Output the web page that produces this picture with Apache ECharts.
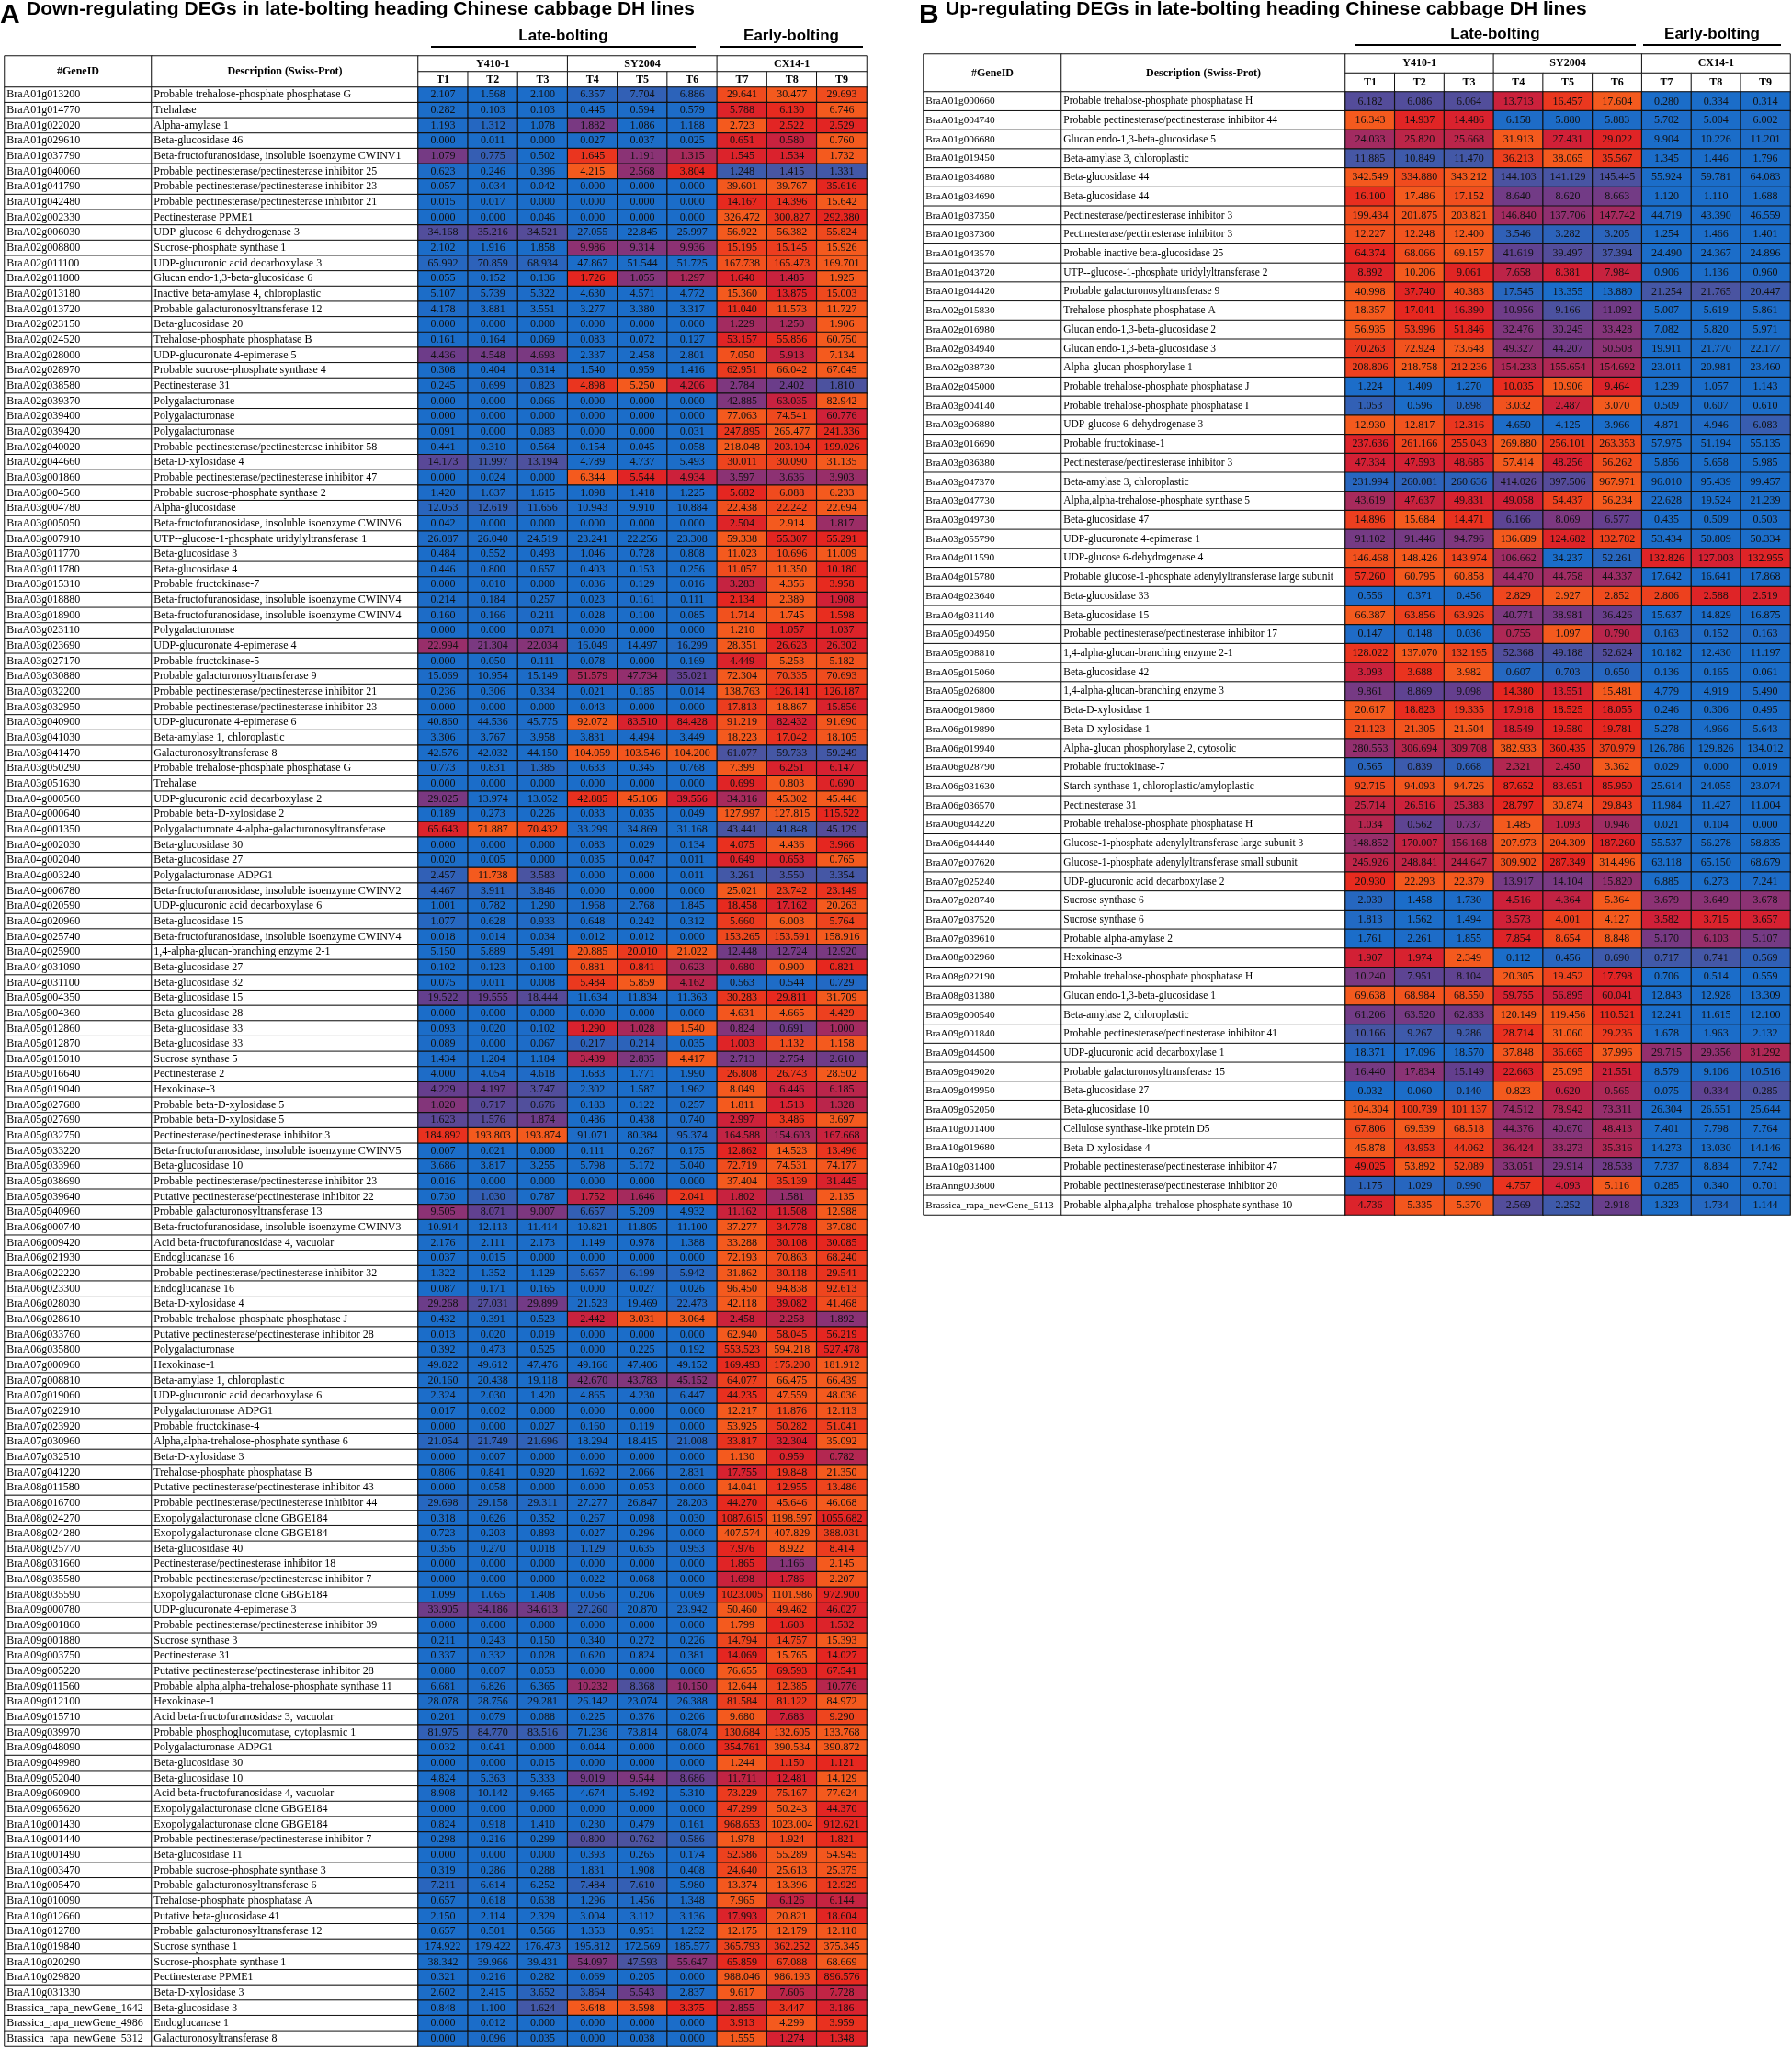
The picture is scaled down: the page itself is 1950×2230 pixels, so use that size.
<!DOCTYPE html>
<html>
<head>
<meta charset="utf-8">
<script src="https://cdn.jsdelivr.net/npm/echarts@6/dist/echarts.min.js"></script>
<style>
  html, body { margin: 0; padding: 0; background: #fff; }
  #chart { width: 1950px; height: 2230px; }
</style>
</head>
<body>
<div id="chart"></div>
<script>
// ---- data ----
const timePoints = ['T1', 'T2', 'T3', 'T4', 'T5', 'T6', 'T7', 'T8', 'T9'];
const lineGroups = ['Y410-1', 'SY2004', 'CX14-1'];

// A: down-regulating DEGs
const downGeneIds = [
  'BraA01g013200','BraA01g014770','BraA01g022020','BraA01g029610','BraA01g037790','BraA01g040060','BraA01g041790','BraA01g042480',
  'BraA02g002330','BraA02g006030','BraA02g008800','BraA02g011100','BraA02g011800','BraA02g013180','BraA02g013720','BraA02g023150',
  'BraA02g024520','BraA02g028000','BraA02g028970','BraA02g038580','BraA02g039370','BraA02g039400','BraA02g039420','BraA02g040020',
  'BraA02g044660','BraA03g001860','BraA03g004560','BraA03g004780','BraA03g005050','BraA03g007910','BraA03g011770','BraA03g011780',
  'BraA03g015310','BraA03g018880','BraA03g018900','BraA03g023110','BraA03g023690','BraA03g027170','BraA03g030880','BraA03g032200',
  'BraA03g032950','BraA03g040900','BraA03g041030','BraA03g041470','BraA03g050290','BraA03g051630','BraA04g000560','BraA04g000640',
  'BraA04g001350','BraA04g002030','BraA04g002040','BraA04g003240','BraA04g006780','BraA04g020590','BraA04g020960','BraA04g025740',
  'BraA04g025900','BraA04g031090','BraA04g031100','BraA05g004350','BraA05g004360','BraA05g012860','BraA05g012870','BraA05g015010',
  'BraA05g016640','BraA05g019040','BraA05g027680','BraA05g027690','BraA05g032750','BraA05g033220','BraA05g033960','BraA05g038690',
  'BraA05g039640','BraA05g040960','BraA06g000740','BraA06g009420','BraA06g021930','BraA06g022220','BraA06g023300','BraA06g028030',
  'BraA06g028610','BraA06g033760','BraA06g035800','BraA07g000960','BraA07g008810','BraA07g019060','BraA07g022910','BraA07g023920',
  'BraA07g030960','BraA07g032510','BraA07g041220','BraA08g011580','BraA08g016700','BraA08g024270','BraA08g024280','BraA08g025770',
  'BraA08g031660','BraA08g035580','BraA08g035590','BraA09g000780','BraA09g001860','BraA09g001880','BraA09g003750','BraA09g005220',
  'BraA09g011560','BraA09g012100','BraA09g015710','BraA09g039970','BraA09g048090','BraA09g049980','BraA09g052040','BraA09g060900',
  'BraA09g065620','BraA10g001430','BraA10g001440','BraA10g001490','BraA10g003470','BraA10g005470','BraA10g010090','BraA10g012660',
  'BraA10g012780','BraA10g019840','BraA10g020290','BraA10g029820','BraA10g031330','Brassica_rapa_newGene_1642','Brassica_rapa_newGene_4986','Brassica_rapa_newGene_5312'
];
const downDescriptions = [
  'Probable trehalose-phosphate phosphatase G','Trehalase','Alpha-amylase 1','Beta-glucosidase 46',
  'Beta-fructofuranosidase, insoluble isoenzyme CWINV1','Probable pectinesterase/pectinesterase inhibitor 25',
  'Probable pectinesterase/pectinesterase inhibitor 23','Probable pectinesterase/pectinesterase inhibitor 21',
  'Pectinesterase PPME1','UDP-glucose 6-dehydrogenase 3','Sucrose-phosphate synthase 1','UDP-glucuronic acid decarboxylase 3',
  'Glucan endo-1,3-beta-glucosidase 6','Inactive beta-amylase 4, chloroplastic','Probable galacturonosyltransferase 12','Beta-glucosidase 20',
  'Trehalose-phosphate phosphatase B','UDP-glucuronate 4-epimerase 5','Probable sucrose-phosphate synthase 4','Pectinesterase 31',
  'Polygalacturonase','Polygalacturonase','Polygalacturonase','Probable pectinesterase/pectinesterase inhibitor 58',
  'Beta-D-xylosidase 4','Probable pectinesterase/pectinesterase inhibitor 47','Probable sucrose-phosphate synthase 2','Alpha-glucosidase',
  'Beta-fructofuranosidase, insoluble isoenzyme CWINV6','UTP--glucose-1-phosphate uridylyltransferase 1','Beta-glucosidase 3','Beta-glucosidase 4',
  'Probable fructokinase-7','Beta-fructofuranosidase, insoluble isoenzyme CWINV4','Beta-fructofuranosidase, insoluble isoenzyme CWINV4','Polygalacturonase',
  'UDP-glucuronate 4-epimerase 4','Probable fructokinase-5','Probable galacturonosyltransferase 9','Probable pectinesterase/pectinesterase inhibitor 21',
  'Probable pectinesterase/pectinesterase inhibitor 23','UDP-glucuronate 4-epimerase 6','Beta-amylase 1, chloroplastic','Galacturonosyltransferase 8',
  'Probable trehalose-phosphate phosphatase G','Trehalase','UDP-glucuronic acid decarboxylase 2','Probable beta-D-xylosidase 2',
  'Polygalacturonate 4-alpha-galacturonosyltransferase','Beta-glucosidase 30','Beta-glucosidase 27','Polygalacturonase ADPG1',
  'Beta-fructofuranosidase, insoluble isoenzyme CWINV2','UDP-glucuronic acid decarboxylase 6','Beta-glucosidase 15','Beta-fructofuranosidase, insoluble isoenzyme CWINV4',
  '1,4-alpha-glucan-branching enzyme 2-1','Beta-glucosidase 27','Beta-glucosidase 32','Beta-glucosidase 15',
  'Beta-glucosidase 28','Beta-glucosidase 33','Beta-glucosidase 33','Sucrose synthase 5',
  'Pectinesterase 2','Hexokinase-3','Probable beta-D-xylosidase 5','Probable beta-D-xylosidase 5',
  'Pectinesterase/pectinesterase inhibitor 3','Beta-fructofuranosidase, insoluble isoenzyme CWINV5','Beta-glucosidase 10','Probable pectinesterase/pectinesterase inhibitor 23',
  'Putative pectinesterase/pectinesterase inhibitor 22','Probable galacturonosyltransferase 13','Beta-fructofuranosidase, insoluble isoenzyme CWINV3','Acid beta-fructofuranosidase 4, vacuolar',
  'Endoglucanase 16','Probable pectinesterase/pectinesterase inhibitor 32','Endoglucanase 16','Beta-D-xylosidase 4',
  'Probable trehalose-phosphate phosphatase J','Putative pectinesterase/pectinesterase inhibitor 28','Polygalacturonase','Hexokinase-1',
  'Beta-amylase 1, chloroplastic','UDP-glucuronic acid decarboxylase 6','Polygalacturonase ADPG1','Probable fructokinase-4',
  'Alpha,alpha-trehalose-phosphate synthase 6','Beta-D-xylosidase 3','Trehalose-phosphate phosphatase B','Putative pectinesterase/pectinesterase inhibitor 43',
  'Probable pectinesterase/pectinesterase inhibitor 44','Exopolygalacturonase clone GBGE184','Exopolygalacturonase clone GBGE184','Beta-glucosidase 40',
  'Pectinesterase/pectinesterase inhibitor 18','Probable pectinesterase/pectinesterase inhibitor 7','Exopolygalacturonase clone GBGE184','UDP-glucuronate 4-epimerase 3',
  'Probable pectinesterase/pectinesterase inhibitor 39','Sucrose synthase 3','Pectinesterase 31','Putative pectinesterase/pectinesterase inhibitor 28',
  'Probable alpha,alpha-trehalose-phosphate synthase 11','Hexokinase-1','Acid beta-fructofuranosidase 3, vacuolar','Probable phosphoglucomutase, cytoplasmic 1',
  'Polygalacturonase ADPG1','Beta-glucosidase 30','Beta-glucosidase 10','Acid beta-fructofuranosidase 4, vacuolar',
  'Exopolygalacturonase clone GBGE184','Exopolygalacturonase clone GBGE184','Probable pectinesterase/pectinesterase inhibitor 7','Beta-glucosidase 11',
  'Probable sucrose-phosphate synthase 3','Probable galacturonosyltransferase 6','Trehalose-phosphate phosphatase A','Putative beta-glucosidase 41',
  'Probable galacturonosyltransferase 12','Sucrose synthase 1','Sucrose-phosphate synthase 1','Pectinesterase PPME1',
  'Beta-D-xylosidase 3','Beta-glucosidase 3','Endoglucanase 1','Galacturonosyltransferase 8'
];
// FPKM, columns T1..T9
const downFpkm = [
  [2.107,1.568,2.100,6.357,7.704,6.886,29.641,30.477,29.693],
  [0.282,0.103,0.103,0.445,0.594,0.579,5.788,6.130,6.746],
  [1.193,1.312,1.078,1.882,1.086,1.188,2.723,2.522,2.529],
  [0.000,0.011,0.000,0.027,0.037,0.025,0.651,0.580,0.760],
  [1.079,0.775,0.502,1.645,1.191,1.315,1.545,1.534,1.732],
  [0.623,0.246,0.396,4.215,2.568,3.804,1.248,1.415,1.331],
  [0.057,0.034,0.042,0.000,0.000,0.000,39.601,39.767,35.616],
  [0.015,0.017,0.000,0.000,0.000,0.000,14.167,14.396,15.642],
  [0.000,0.000,0.046,0.000,0.000,0.000,326.472,300.827,292.380],
  [34.168,35.216,34.521,27.055,22.845,25.997,56.922,56.382,55.824],
  [2.102,1.916,1.858,9.986,9.314,9.936,15.195,15.145,15.926],
  [65.992,70.859,68.934,47.867,51.544,51.725,167.738,165.473,169.701],
  [0.055,0.152,0.136,1.726,1.055,1.297,1.640,1.485,1.925],
  [5.107,5.739,5.322,4.630,4.571,4.772,15.360,13.875,15.003],
  [4.178,3.881,3.551,3.277,3.380,3.317,11.040,11.573,11.727],
  [0.000,0.000,0.000,0.000,0.000,0.000,1.229,1.250,1.906],
  [0.161,0.164,0.069,0.083,0.072,0.127,53.157,55.856,60.750],
  [4.436,4.548,4.693,2.337,2.458,2.801,7.050,5.913,7.134],
  [0.308,0.404,0.314,1.540,0.959,1.416,62.951,66.042,67.045],
  [0.245,0.699,0.823,4.898,5.250,4.206,2.784,2.402,1.810],
  [0.000,0.000,0.066,0.000,0.000,0.000,42.885,63.035,82.942],
  [0.000,0.000,0.000,0.000,0.000,0.000,77.063,74.541,60.776],
  [0.091,0.000,0.083,0.000,0.000,0.031,247.895,265.477,241.336],
  [0.441,0.310,0.564,0.154,0.045,0.058,218.048,203.104,199.026],
  [14.173,11.997,13.194,4.789,4.737,5.493,30.011,30.090,31.135],
  [0.000,0.024,0.000,6.344,5.544,4.934,3.597,3.636,3.903],
  [1.420,1.637,1.615,1.098,1.418,1.225,5.682,6.088,6.233],
  [12.053,12.619,11.656,10.943,9.910,10.884,22.438,22.242,22.694],
  [0.042,0.000,0.000,0.000,0.000,0.000,2.504,2.914,1.817],
  [26.087,26.040,24.519,23.241,22.256,23.308,59.338,55.307,55.291],
  [0.484,0.552,0.493,1.046,0.728,0.808,11.023,10.696,11.009],
  [0.446,0.800,0.657,0.403,0.153,0.256,11.057,11.350,10.180],
  [0.000,0.010,0.000,0.036,0.129,0.016,3.283,4.356,3.958],
  [0.214,0.184,0.257,0.023,0.161,0.111,2.134,2.389,1.908],
  [0.160,0.166,0.211,0.028,0.100,0.085,1.714,1.745,1.598],
  [0.000,0.000,0.071,0.000,0.000,0.000,1.210,1.057,1.037],
  [22.994,21.304,22.034,16.049,14.497,16.299,28.351,26.623,26.302],
  [0.000,0.050,0.111,0.078,0.000,0.169,4.449,5.253,5.182],
  [15.069,10.954,15.149,51.579,47.734,35.021,72.304,70.335,70.693],
  [0.236,0.306,0.334,0.021,0.185,0.014,138.763,126.141,126.187],
  [0.000,0.000,0.000,0.043,0.000,0.000,17.813,18.867,15.856],
  [40.860,44.536,45.775,92.072,83.510,84.428,91.219,82.432,91.690],
  [3.306,3.767,3.958,3.831,4.494,3.449,18.223,17.042,18.105],
  [42.576,42.032,44.150,104.059,103.546,104.200,61.077,59.733,59.249],
  [0.773,0.831,1.385,0.633,0.345,0.768,7.399,6.251,6.147],
  [0.000,0.000,0.000,0.000,0.000,0.000,0.699,0.803,0.690],
  [29.025,13.974,13.052,42.885,45.106,39.556,34.316,45.302,45.446],
  [0.189,0.273,0.226,0.033,0.035,0.049,127.997,127.815,115.522],
  [65.643,71.887,70.432,33.299,34.869,31.168,43.441,41.848,45.129],
  [0.000,0.000,0.000,0.083,0.029,0.134,4.075,4.436,3.966],
  [0.020,0.005,0.000,0.035,0.047,0.011,0.649,0.653,0.765],
  [2.457,11.738,3.583,0.000,0.000,0.011,3.261,3.550,3.354],
  [4.467,3.911,3.846,0.000,0.000,0.000,25.021,23.742,23.149],
  [1.001,0.782,1.290,1.968,2.768,1.845,18.458,17.162,20.263],
  [1.077,0.628,0.933,0.648,0.242,0.312,5.660,6.003,5.764],
  [0.018,0.014,0.034,0.012,0.012,0.000,153.265,153.591,158.916],
  [5.150,5.889,5.491,20.885,20.010,21.022,12.448,12.724,12.920],
  [0.102,0.123,0.100,0.881,0.841,0.623,0.680,0.900,0.821],
  [0.075,0.011,0.008,5.484,5.859,4.162,0.563,0.544,0.729],
  [19.522,19.555,18.444,11.634,11.834,11.363,30.283,29.811,31.709],
  [0.000,0.000,0.000,0.000,0.000,0.000,4.631,4.665,4.429],
  [0.093,0.020,0.102,1.290,1.028,1.540,0.824,0.691,1.000],
  [0.089,0.000,0.067,0.217,0.214,0.035,1.003,1.132,1.158],
  [1.434,1.204,1.184,3.439,2.835,4.417,2.713,2.754,2.610],
  [4.000,4.054,4.618,1.683,1.771,1.990,26.808,26.743,28.502],
  [4.229,4.197,3.747,2.302,1.587,1.962,8.049,6.446,6.185],
  [1.020,0.717,0.676,0.183,0.122,0.257,1.811,1.513,1.328],
  [1.623,1.576,1.874,0.486,0.438,0.740,2.997,3.486,3.697],
  [184.892,193.803,193.874,91.071,80.384,95.374,164.588,154.603,167.668],
  [0.007,0.021,0.000,0.111,0.267,0.175,12.862,14.523,13.496],
  [3.686,3.817,3.255,5.798,5.172,5.040,72.719,74.531,74.177],
  [0.016,0.000,0.000,0.000,0.000,0.000,37.404,35.139,31.445],
  [0.730,1.030,0.787,1.752,1.646,2.041,1.802,1.581,2.135],
  [9.505,8.071,9.007,6.657,5.209,4.932,11.162,11.508,12.988],
  [10.914,12.113,11.414,10.821,11.805,11.100,37.277,34.778,37.080],
  [2.176,2.111,2.173,1.149,0.978,1.388,33.288,30.108,30.085],
  [0.037,0.015,0.000,0.000,0.000,0.000,72.193,70.863,68.240],
  [1.322,1.352,1.129,5.657,6.199,5.942,31.862,30.118,29.541],
  [0.087,0.171,0.165,0.000,0.027,0.026,96.450,94.838,92.613],
  [29.268,27.031,29.899,21.523,19.469,22.473,42.118,39.082,41.468],
  [0.432,0.391,0.523,2.442,3.031,3.064,2.458,2.258,1.892],
  [0.013,0.020,0.019,0.000,0.000,0.000,62.940,58.045,56.219],
  [0.392,0.473,0.525,0.000,0.225,0.192,553.523,594.218,527.478],
  [49.822,49.612,47.476,49.166,47.406,49.152,169.493,175.200,181.912],
  [20.160,20.438,19.118,42.670,43.783,45.152,64.077,66.475,66.439],
  [2.324,2.030,1.420,4.865,4.230,6.447,44.235,47.559,48.036],
  [0.017,0.002,0.000,0.000,0.000,0.000,12.217,11.876,12.113],
  [0.000,0.000,0.027,0.160,0.119,0.000,53.925,50.282,51.041],
  [21.054,21.749,21.696,18.294,18.415,21.008,33.817,32.304,35.092],
  [0.000,0.007,0.000,0.000,0.000,0.000,1.130,0.959,0.782],
  [0.806,0.841,0.920,1.692,2.066,2.831,17.755,19.848,21.350],
  [0.000,0.058,0.000,0.000,0.053,0.000,14.041,12.955,13.486],
  [29.698,29.158,29.311,27.277,26.847,28.203,44.270,45.646,46.068],
  [0.318,0.626,0.352,0.267,0.098,0.030,1087.615,1198.597,1055.682],
  [0.723,0.203,0.893,0.027,0.296,0.000,407.574,407.829,388.031],
  [0.356,0.270,0.018,1.129,0.635,0.953,7.976,8.922,8.414],
  [0.000,0.000,0.000,0.000,0.000,0.000,1.865,1.166,2.145],
  [0.000,0.000,0.000,0.022,0.068,0.000,1.698,1.786,2.207],
  [1.099,1.065,1.408,0.056,0.206,0.069,1023.005,1101.986,972.900],
  [33.905,34.186,34.613,27.260,20.870,23.942,50.460,49.462,46.027],
  [0.000,0.000,0.000,0.000,0.000,0.000,1.799,1.603,1.532],
  [0.211,0.243,0.150,0.340,0.272,0.226,14.794,14.757,15.393],
  [0.337,0.332,0.028,0.620,0.824,0.381,14.069,15.765,14.027],
  [0.080,0.007,0.053,0.000,0.000,0.000,76.655,69.593,67.541],
  [6.681,6.826,6.365,10.232,8.368,10.150,12.644,12.385,10.776],
  [28.078,28.756,29.281,26.142,23.074,26.388,81.584,81.122,84.972],
  [0.201,0.079,0.088,0.225,0.376,0.206,9.680,7.683,9.290],
  [81.975,84.770,83.516,71.236,73.814,68.074,130.684,132.605,133.768],
  [0.032,0.041,0.000,0.044,0.000,0.000,354.761,390.534,390.872],
  [0.000,0.000,0.015,0.000,0.000,0.000,1.244,1.150,1.121],
  [4.824,5.363,5.333,9.019,9.544,8.686,11.711,12.481,14.129],
  [8.908,10.142,9.465,4.674,5.492,5.310,73.229,75.167,77.624],
  [0.000,0.000,0.000,0.000,0.000,0.000,47.299,50.243,44.370],
  [0.824,0.918,1.410,0.230,0.479,0.161,968.653,1023.004,912.621],
  [0.298,0.216,0.299,0.800,0.762,0.586,1.978,1.924,1.821],
  [0.000,0.000,0.000,0.393,0.265,0.174,52.586,55.289,54.945],
  [0.319,0.286,0.288,1.831,1.908,0.408,24.640,25.613,25.375],
  [7.211,6.614,6.252,7.484,7.610,5.980,13.374,13.396,12.929],
  [0.657,0.618,0.638,1.296,1.456,1.348,7.965,6.126,6.144],
  [2.150,2.114,2.329,3.004,3.112,3.136,17.993,20.821,18.604],
  [0.657,0.501,0.566,1.353,0.951,1.252,12.175,12.179,12.110],
  [174.922,179.422,176.473,195.812,172.569,185.577,365.793,362.252,375.345],
  [38.342,39.966,39.431,54.097,47.593,55.647,65.859,67.088,68.669],
  [0.321,0.216,0.282,0.069,0.205,0.000,988.046,986.193,896.576],
  [2.602,2.415,3.652,3.864,5.543,2.837,9.617,7.606,7.728],
  [0.848,1.100,1.624,3.648,3.598,3.375,2.855,3.447,3.186],
  [0.000,0.012,0.000,0.000,0.000,0.000,3.913,4.299,3.959],
  [0.000,0.096,0.035,0.000,0.038,0.000,1.555,1.274,1.348]
];

// B: up-regulating DEGs
const upGeneIds = [
  'BraA01g000660','BraA01g004740','BraA01g006680','BraA01g019450','BraA01g034680','BraA01g034690','BraA01g037350','BraA01g037360',
  'BraA01g043570','BraA01g043720','BraA01g044420','BraA02g015830','BraA02g016980','BraA02g034940','BraA02g038730','BraA02g045000',
  'BraA03g004140','BraA03g006880','BraA03g016690','BraA03g036380','BraA03g047370','BraA03g047730','BraA03g049730','BraA03g055790',
  'BraA04g011590','BraA04g015780','BraA04g023640','BraA04g031140','BraA05g004950','BraA05g008810','BraA05g015060','BraA05g026800',
  'BraA06g019860','BraA06g019890','BraA06g019940','BraA06g028790','BraA06g031630','BraA06g036570','BraA06g044220','BraA06g044440',
  'BraA07g007620','BraA07g025240','BraA07g028740','BraA07g037520','BraA07g039610','BraA08g002960','BraA08g022190','BraA08g031380',
  'BraA09g000540','BraA09g001840','BraA09g044500','BraA09g049020','BraA09g049950','BraA09g052050','BraA10g001400','BraA10g019680',
  'BraA10g031400','BraAnng003600','Brassica_rapa_newGene_5113'
];
const upDescriptions = [
  'Probable trehalose-phosphate phosphatase H','Probable pectinesterase/pectinesterase inhibitor 44','Glucan endo-1,3-beta-glucosidase 5','Beta-amylase 3, chloroplastic',
  'Beta-glucosidase 44','Beta-glucosidase 44','Pectinesterase/pectinesterase inhibitor 3','Pectinesterase/pectinesterase inhibitor 3',
  'Probable inactive beta-glucosidase 25','UTP--glucose-1-phosphate uridylyltransferase 2','Probable galacturonosyltransferase 9','Trehalose-phosphate phosphatase A',
  'Glucan endo-1,3-beta-glucosidase 2','Glucan endo-1,3-beta-glucosidase 3','Alpha-glucan phosphorylase 1','Probable trehalose-phosphate phosphatase J',
  'Probable trehalose-phosphate phosphatase I','UDP-glucose 6-dehydrogenase 3','Probable fructokinase-1','Pectinesterase/pectinesterase inhibitor 3',
  'Beta-amylase 3, chloroplastic','Alpha,alpha-trehalose-phosphate synthase 5','Beta-glucosidase 47','UDP-glucuronate 4-epimerase 1',
  'UDP-glucose 6-dehydrogenase 4','Probable glucose-1-phosphate adenylyltransferase large subunit','Beta-glucosidase 33','Beta-glucosidase 15',
  'Probable pectinesterase/pectinesterase inhibitor 17','1,4-alpha-glucan-branching enzyme 2-1','Beta-glucosidase 42','1,4-alpha-glucan-branching enzyme 3',
  'Beta-D-xylosidase 1','Beta-D-xylosidase 1','Alpha-glucan phosphorylase 2, cytosolic','Probable fructokinase-7',
  'Starch synthase 1, chloroplastic/amyloplastic','Pectinesterase 31','Probable trehalose-phosphate phosphatase H','Glucose-1-phosphate adenylyltransferase large subunit 3',
  'Glucose-1-phosphate adenylyltransferase small subunit','UDP-glucuronic acid decarboxylase 2','Sucrose synthase 6','Sucrose synthase 6',
  'Probable alpha-amylase 2','Hexokinase-3','Probable trehalose-phosphate phosphatase H','Glucan endo-1,3-beta-glucosidase 1',
  'Beta-amylase 2, chloroplastic','Probable pectinesterase/pectinesterase inhibitor 41','UDP-glucuronic acid decarboxylase 1','Probable galacturonosyltransferase 15',
  'Beta-glucosidase 27','Beta-glucosidase 10','Cellulose synthase-like protein D5','Beta-D-xylosidase 4',
  'Probable pectinesterase/pectinesterase inhibitor 47','Probable pectinesterase/pectinesterase inhibitor 20','Probable alpha,alpha-trehalose-phosphate synthase 10'
];
const upFpkm = [
  [6.182,6.086,6.064,13.713,16.457,17.604,0.280,0.334,0.314],
  [16.343,14.937,14.486,6.158,5.880,5.883,5.702,5.004,6.002],
  [24.033,25.820,25.668,31.913,27.431,29.022,9.904,10.226,11.201],
  [11.885,10.849,11.470,36.213,38.065,35.567,1.345,1.446,1.796],
  [342.549,334.880,343.212,144.103,141.129,145.445,55.924,59.781,64.083],
  [16.100,17.486,17.152,8.640,8.620,8.663,1.120,1.110,1.688],
  [199.434,201.875,203.821,146.840,137.706,147.742,44.719,43.390,46.559],
  [12.227,12.248,12.400,3.546,3.282,3.205,1.254,1.466,1.401],
  [64.374,68.066,69.157,41.619,39.497,37.394,24.490,24.367,24.896],
  [8.892,10.206,9.061,7.658,8.381,7.984,0.906,1.136,0.960],
  [40.998,37.740,40.383,17.545,13.355,13.880,21.254,21.765,20.447],
  [18.357,17.041,16.390,10.956,9.166,11.092,5.007,5.619,5.861],
  [56.935,53.996,51.846,32.476,30.245,33.428,7.082,5.820,5.971],
  [70.263,72.924,73.648,49.327,44.207,50.508,19.911,21.770,22.177],
  [208.806,218.758,212.236,154.233,155.654,154.692,23.011,20.981,23.460],
  [1.224,1.409,1.270,10.035,10.906,9.464,1.239,1.057,1.143],
  [1.053,0.596,0.898,3.032,2.487,3.070,0.509,0.607,0.610],
  [12.930,12.817,12.316,4.650,4.125,3.966,4.871,4.946,6.083],
  [237.636,261.166,255.043,269.880,256.101,263.353,57.975,51.194,55.135],
  [47.334,47.593,48.685,57.414,48.256,56.262,5.856,5.658,5.985],
  [231.994,260.081,260.636,414.026,397.506,967.971,96.010,95.439,99.457],
  [43.619,47.637,49.831,49.058,54.437,56.234,22.628,19.524,21.239],
  [14.896,15.684,14.471,6.166,8.069,6.577,0.435,0.509,0.503],
  [91.102,91.446,94.796,136.689,124.682,132.782,53.434,50.809,50.334],
  [146.468,148.426,143.974,106.662,34.237,52.261,132.826,127.003,132.955],
  [57.260,60.795,60.858,44.470,44.758,44.337,17.642,16.641,17.868],
  [0.556,0.371,0.456,2.829,2.927,2.852,2.806,2.588,2.519],
  [66.387,63.856,63.926,40.771,38.981,36.426,15.637,14.829,16.875],
  [0.147,0.148,0.036,0.755,1.097,0.790,0.163,0.152,0.163],
  [128.022,137.070,132.195,52.368,49.188,52.624,10.182,12.430,11.197],
  [3.093,3.688,3.982,0.607,0.703,0.650,0.136,0.165,0.061],
  [9.861,8.869,9.098,14.380,13.551,15.481,4.779,4.919,5.490],
  [20.617,18.823,19.335,17.918,18.525,18.055,0.246,0.306,0.495],
  [21.123,21.305,21.504,18.549,19.580,19.781,5.278,4.966,5.643],
  [280.553,306.694,309.708,382.933,360.435,370.979,126.786,129.826,134.012],
  [0.565,0.839,0.668,2.321,2.450,3.362,0.029,0.000,0.019],
  [92.715,94.093,94.726,87.652,83.651,85.950,25.614,24.055,23.074],
  [25.714,26.516,25.383,28.797,30.874,29.843,11.984,11.427,11.004],
  [1.034,0.562,0.737,1.485,1.093,0.946,0.021,0.104,0.000],
  [148.852,170.007,156.168,207.973,204.309,187.260,55.537,56.278,58.835],
  [245.926,248.841,244.647,309.902,287.349,314.496,63.118,65.150,68.679],
  [20.930,22.293,22.379,13.917,14.104,15.820,6.885,6.273,7.241],
  [2.030,1.458,1.730,4.516,4.364,5.364,3.679,3.649,3.678],
  [1.813,1.562,1.494,3.573,4.001,4.127,3.582,3.715,3.657],
  [1.761,2.261,1.855,7.854,8.654,8.848,5.170,6.103,5.107],
  [1.907,1.974,2.349,0.112,0.456,0.690,0.717,0.741,0.569],
  [10.240,7.951,8.104,20.305,19.452,17.798,0.706,0.514,0.559],
  [69.638,68.984,68.550,59.755,56.895,60.041,12.843,12.928,13.309],
  [61.206,63.520,62.833,120.149,119.456,110.521,12.241,11.615,12.100],
  [10.166,9.267,9.286,28.714,31.060,29.236,1.678,1.963,2.132],
  [18.371,17.096,18.570,37.848,36.665,37.996,29.715,29.356,31.292],
  [16.440,17.834,15.149,22.663,25.095,21.551,8.579,9.106,10.516],
  [0.032,0.060,0.140,0.823,0.620,0.565,0.075,0.334,0.285],
  [104.304,100.739,101.137,74.512,78.942,73.311,26.304,26.551,25.644],
  [67.806,69.539,68.518,44.376,40.670,48.413,7.401,7.798,7.764],
  [45.878,43.953,44.062,36.424,33.273,35.316,14.273,13.030,14.146],
  [49.025,53.892,52.089,33.051,29.914,28.538,7.737,8.834,7.742],
  [1.175,1.029,0.990,4.757,4.093,5.116,0.285,0.340,0.701],
  [4.736,5.335,5.370,2.569,2.252,2.918,1.323,1.734,1.144]
];

// ---- layout ----
const panels = [
  {letter: 'A', title: 'Down-regulating DEGs in late-bolting heading Chinese cabbage DH lines',
   ids: downGeneIds, desc: downDescriptions, vals: downFpkm, idFont: 12, descFont: 12,
   left: 5, idW: 160, descW: 290, valW: 488, top: 61, hdrH: 17, rowTop: 95, rowBottom: 2227,
   late: [469, 757], early: [783, 939]},
  {letter: 'B', title: 'Up-regulating DEGs in late-bolting heading Chinese cabbage DH lines',
   ids: upGeneIds, desc: upDescriptions, vals: upFpkm, idFont: 11.3, descFont: 11.5,
   left: 1005, idW: 150, descW: 309, valW: 484, top: 59, hdrH: 20.5, rowTop: 100, rowBottom: 1322,
   late: [1474, 1780], early: [1788, 1938]}
];

const serif = 'Liberation Serif';
const grid = [], xAxis = [], yAxis = [], series = [], valueSeries = [], graphic = [], title = [];

function addGrid(left, top, width, height, nx, ny) {
  const gi = grid.length;
  grid.push({left: left, top: top, width: width, height: height, containLabel: false});
  xAxis.push({type: 'category', gridIndex: gi, data: Array.from({length: nx}, (_, i) => i), show: false});
  yAxis.push({type: 'category', gridIndex: gi, data: Array.from({length: ny}, (_, i) => i), show: false, inverse: true});
  return gi;
}

function textLabel(formatter, extra) {
  return Object.assign({show: true, fontFamily: serif, fontSize: 12, color: '#000', formatter: formatter}, extra || {});
}

function cellSeries(gi, data, label, itemStyle) {
  return {
    type: 'heatmap', xAxisIndex: gi, yAxisIndex: gi, data: data, progressive: 0,
    itemStyle: itemStyle || {color: '#fff', borderColor: '#111', borderWidth: 1},
    label: label, emphasis: {disabled: true}, silent: true
  };
}

panels.forEach(p => {
  const n = p.ids.length;
  const valLeft = p.left + p.idW + p.descW;
  const rowsH = p.rowBottom - p.rowTop;
  const bold = {fontWeight: 'bold'};

  // header cells
  let g = addGrid(p.left, p.top, p.idW, p.hdrH * 2, 1, 1);
  series.push(cellSeries(g, [[0, 0, 0]], textLabel('#GeneID', bold)));
  g = addGrid(p.left + p.idW, p.top, p.descW, p.hdrH * 2, 1, 1);
  series.push(cellSeries(g, [[0, 0, 0]], textLabel('Description (Swiss-Prot)', bold)));
  g = addGrid(valLeft, p.top, p.valW, p.hdrH, 3, 1);
  series.push(cellSeries(g, lineGroups.map((_, i) => [i, 0, 0]), textLabel(q => lineGroups[q.data[0]], bold)));
  g = addGrid(valLeft, p.top + p.hdrH, p.valW, p.hdrH, 9, 1);
  series.push(cellSeries(g, timePoints.map((_, i) => [i, 0, 0]), textLabel(q => timePoints[q.data[0]], bold)));

  // gene id and description columns
  g = addGrid(p.left, p.rowTop, p.idW, rowsH, 1, n);
  series.push(cellSeries(g, p.ids.map((_, i) => [0, i, 0]),
    textLabel(q => p.ids[q.data[1]], {position: 'insideLeft', distance: 3, fontSize: p.idFont})));
  g = addGrid(p.left + p.idW, p.rowTop, p.descW, rowsH, 1, n);
  series.push(cellSeries(g, p.desc.map((_, i) => [0, i, 0]),
    textLabel(q => p.desc[q.data[1]], {position: 'insideLeft', distance: 3, fontSize: p.descFont})));

  // expression values, coloured by row-wise min-max scaling
  g = addGrid(valLeft, p.rowTop, p.valW, rowsH, 9, n);
  const data = [];
  p.vals.forEach((row, r) => {
    const lo = Math.min(...row), hi = Math.max(...row);
    row.forEach((v, c) => data.push([c, r, hi > lo ? (v - lo) / (hi - lo) : 0]));
  });
  valueSeries.push(series.length);
  series.push(cellSeries(g, data,
    textLabel(q => p.vals[q.data[1]][q.data[0]].toFixed(3), {color: '#111'}),
    {borderColor: '#111', borderWidth: 1.2}));

  // panel title
  title.push({text: p.letter, left: p.left - 5, top: 2, padding: 0,
    textStyle: {fontFamily: 'Liberation Sans', fontSize: 30, fontWeight: 'bold', color: '#000'}});
  title.push({text: p.title, left: p.left + 24, top: 0, padding: 0,
    textStyle: {fontFamily: 'Liberation Sans', fontSize: 21, fontWeight: 'bold', color: '#000'}});

  // stage labels with underlines
  [['Late-bolting', p.late], ['Early-bolting', p.early]].forEach(([txt, span]) => {
    graphic.push({type: 'text', style: {text: txt, x: (span[0] + span[1]) / 2, y: p.top - 22, textAlign: 'center', textVerticalAlign: 'middle',
      font: 'bold 17px "Liberation Sans"', fill: '#000'}});
    graphic.push({type: 'line', shape: {x1: span[0], y1: p.top - 10, x2: span[1], y2: p.top - 10}, style: {stroke: '#000', lineWidth: 2}});
  });
});

const chart = echarts.init(document.getElementById('chart'), null, {renderer: 'canvas'});
chart.setOption({
  backgroundColor: '#fff',
  animation: false,
  title: title,
  grid: grid,
  xAxis: xAxis,
  yAxis: yAxis,
  visualMap: {
    show: false, type: 'continuous', seriesIndex: valueSeries, dimension: 2, min: 0, max: 1,
    inRange: {color: ['#1b6dc9', '#1e6cc7', '#2f61b8', '#4955a2', '#643f8e', '#7c3880', '#932f6e', '#b6264e', '#d22036', '#e6261f', '#f45a1e']}
  },
  graphic: graphic,
  series: series
});
</script>
</body>
</html>
